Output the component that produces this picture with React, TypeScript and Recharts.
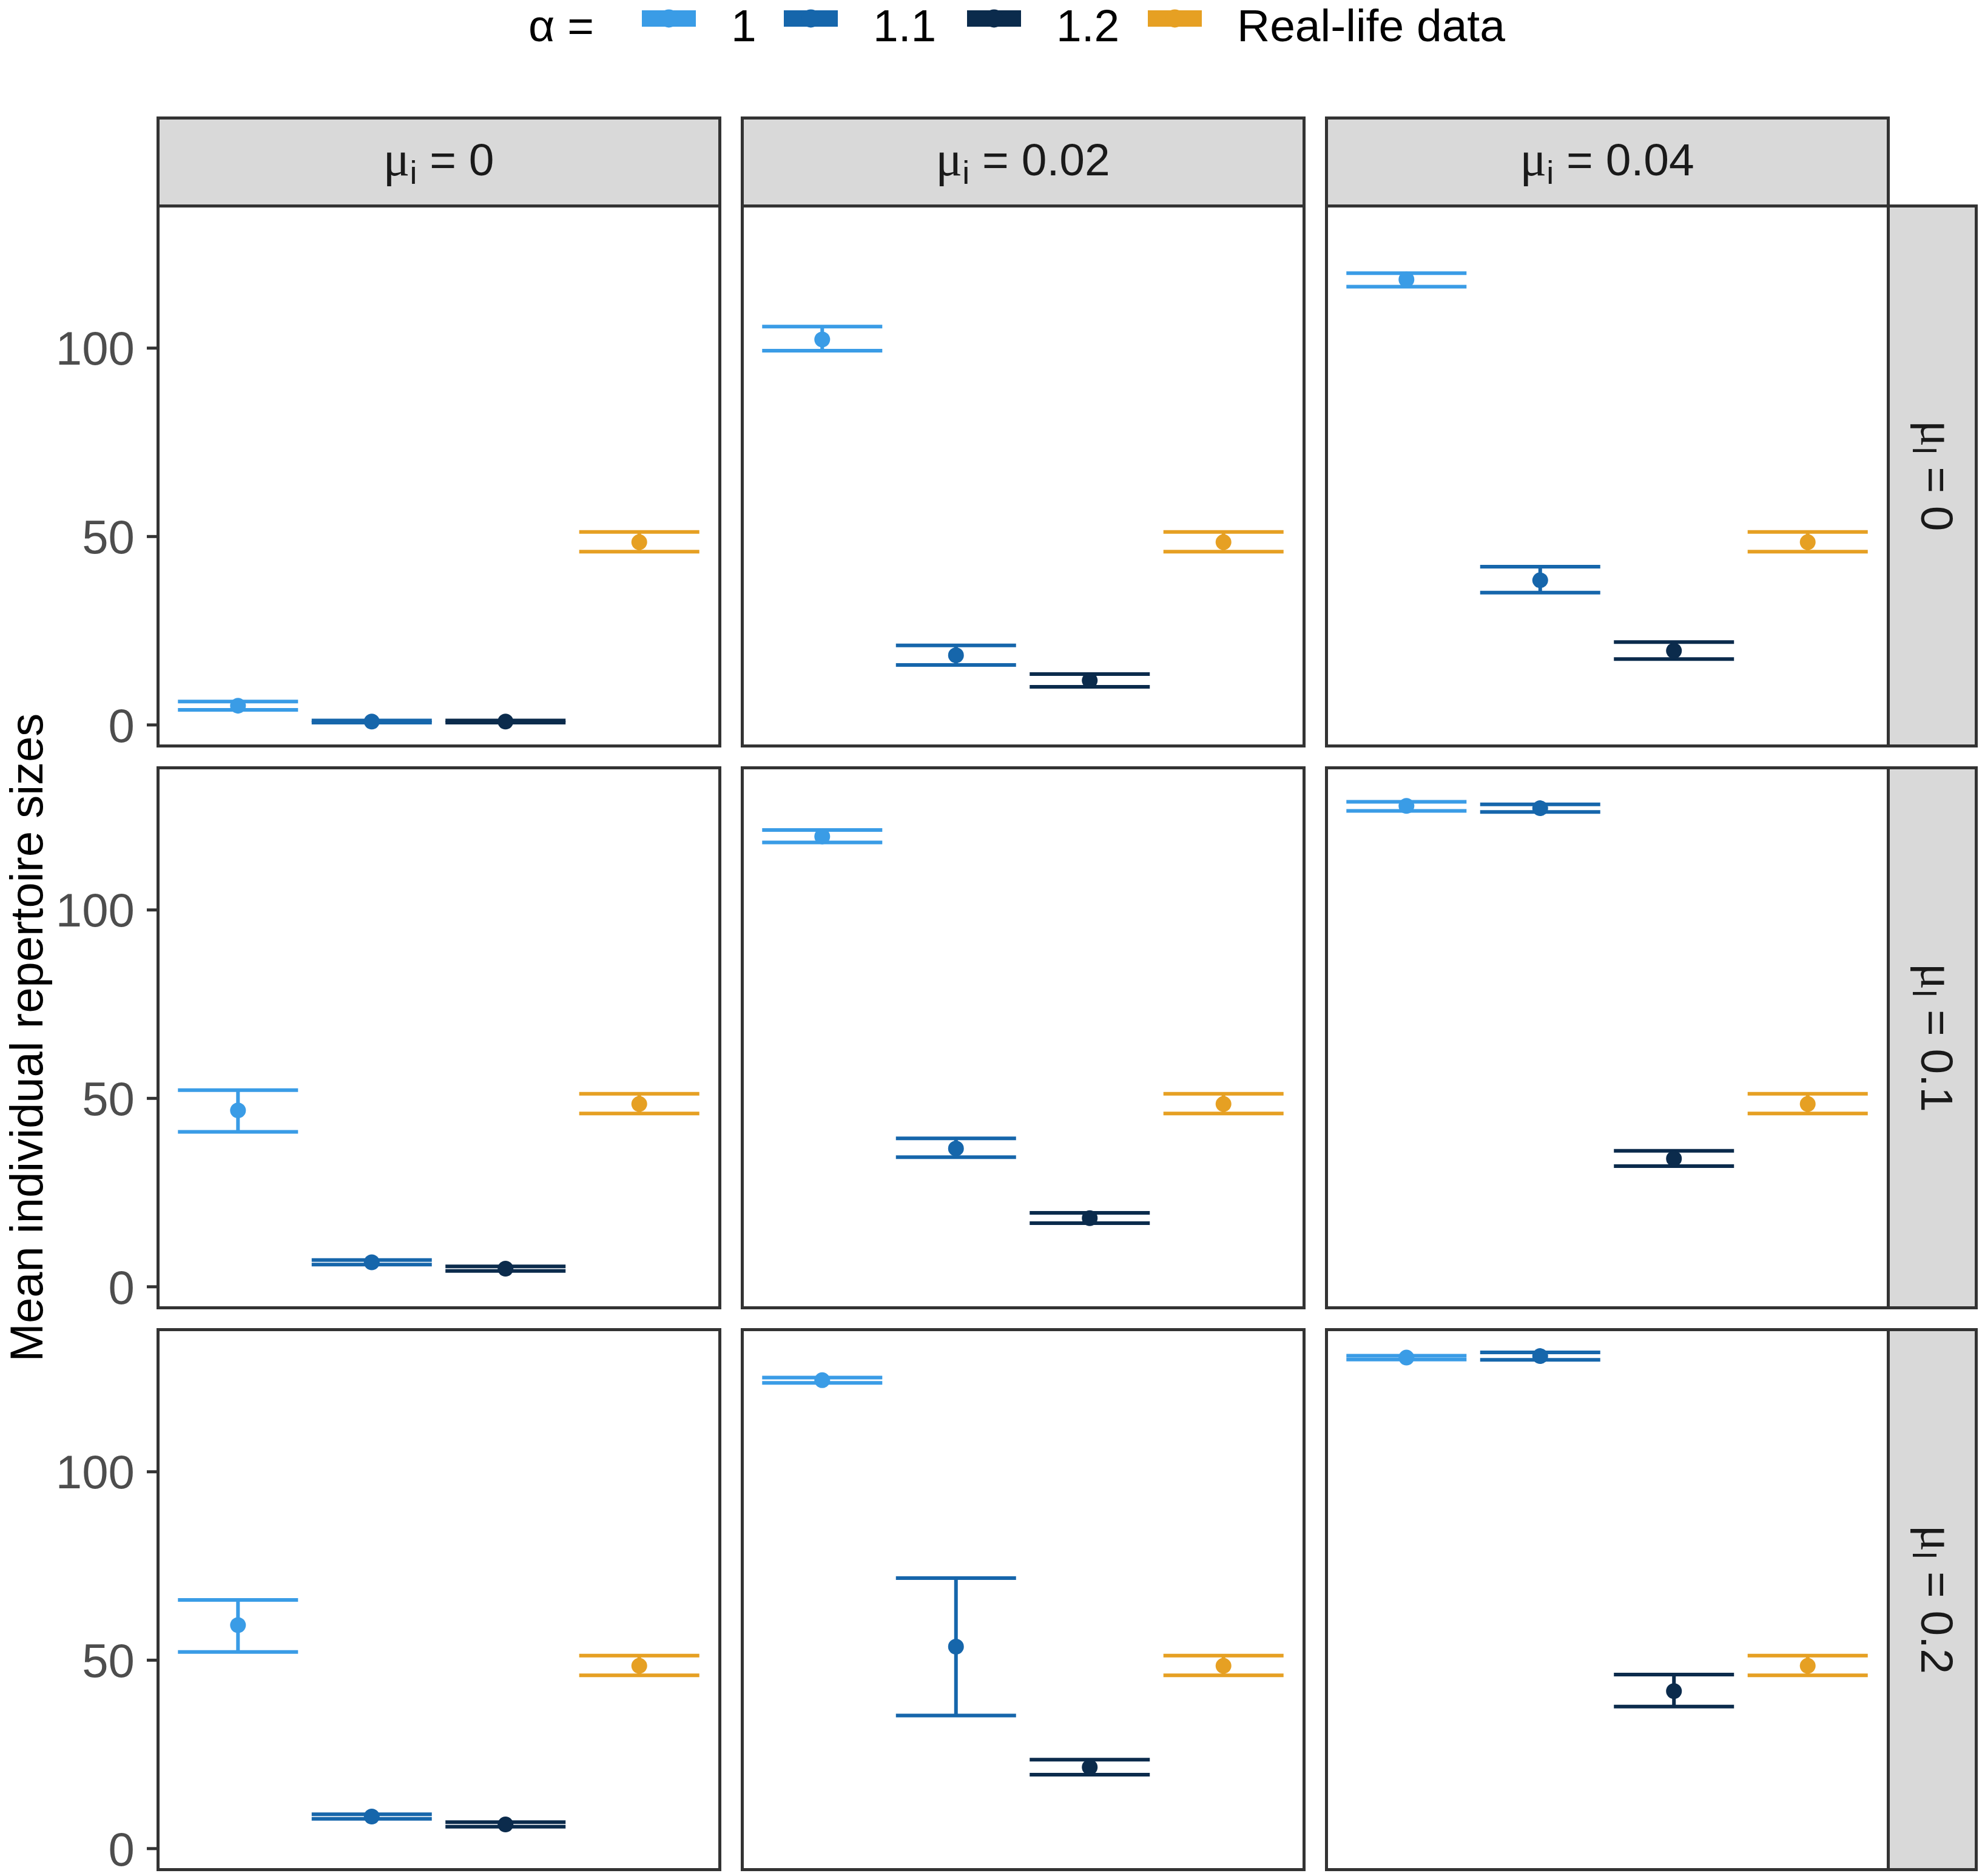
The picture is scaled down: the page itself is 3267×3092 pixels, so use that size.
import { ScatterChart, Scatter, XAxis, YAxis, ErrorBar } from 'recharts';

// ---------------------------------------------------------------------------
// data: mean individual repertoire size per facet (row = mu_l, col = mu_i)
// ---------------------------------------------------------------------------

const categories = ['1', '1.1', '1.2', 'Real-life data'];
const categoryColors = ['#3a9ce6', '#1666ab', '#0b2b4c', '#e6a023'];
const muILevels = ['0', '0.02', '0.04'];
const muLLevels = ['0', '0.1', '0.2'];
const yTicks = [0, 50, 100];

const meanValues = [
  [
    [5.1, 0.9, 0.9, 48.5],
    [102.3, 18.5, 11.8, 48.5],
    [118.2, 38.4, 19.7, 48.5],
  ],
  [
    [46.8, 6.5, 4.8, 48.5],
    [119.5, 36.7, 18.2, 48.5],
    [127.6, 127.0, 34.0, 48.5],
  ],
  [
    [59.3, 8.5, 6.4, 48.5],
    [124.3, 53.6, 21.6, 48.5],
    [130.3, 130.7, 41.8, 48.5],
  ],
];

const lowerValues = [
  [
    [4.0, 0.6, 0.6, 46.0],
    [99.3, 15.9, 10.1, 46.0],
    [116.3, 35.1, 17.5, 46.0],
  ],
  [
    [41.1, 5.9, 4.2, 46.0],
    [117.9, 34.4, 16.9, 46.0],
    [126.3, 126.0, 32.0, 46.0],
  ],
  [
    [52.2, 7.9, 5.8, 46.0],
    [123.6, 35.3, 19.6, 46.0],
    [129.8, 129.7, 37.7, 46.0],
  ],
];

const upperValues = [
  [
    [6.2, 1.2, 1.2, 51.2],
    [105.7, 21.1, 13.5, 51.2],
    [119.9, 42.0, 22.0, 51.2],
  ],
  [
    [52.2, 7.1, 5.4, 51.2],
    [121.2, 39.4, 19.6, 51.2],
    [128.7, 128.0, 36.1, 51.2],
  ],
  [
    [66.0, 9.1, 7.0, 51.2],
    [125.0, 71.8, 23.6, 51.2],
    [130.8, 131.7, 46.2, 51.2],
  ],
];

// ---------------------------------------------------------------------------
// layout
// ---------------------------------------------------------------------------

const PANEL_W = 926;
const PANEL_H = 890;
const PAD = 40; // room below each panel so the "0" tick label is not clipped
const colX = [260, 1223, 2186];
const rowY = [339, 1265, 2191];
const STRIP = 145;
const BORDER = 5;
const LINE = '#333333';
const STRIP_FILL = '#d9d9d9';
const CAP_HALF = 99;
const BAR_STROKE = 6;
const legendKeyX = [1058, 1292, 1594, 1892];

function Frame({ x, y, w, h, fill }: { x: number; y: number; w: number; h: number; fill?: string }) {
  return (
    <div
      style={{
        position: 'absolute',
        left: x - BORDER / 2,
        top: y - BORDER / 2,
        width: w + BORDER,
        height: h + BORDER,
        boxSizing: 'border-box',
        border: `${BORDER}px solid ${LINE}`,
        background: fill ?? 'transparent',
        pointerEvents: 'none',
      }}
    />
  );
}

function MuLabel({ sub, value }: { sub: string; value: string }) {
  return (
    <>
      <tspan fontFamily="Liberation Serif, serif" fontSize={82}>μ</tspan>
      <tspan fontSize={54} dy={14}>{sub}</tspan>
      <tspan dy={-14}>{` = ${value}`}</tspan>
    </>
  );
}

function Panel({ r, c }: { r: number; c: number }) {
  const showAxis = c === 0;
  const left = showAxis ? 0 : colX[c];
  const width = showAxis ? colX[0] + PANEL_W : PANEL_W;

  return (
    <div style={{ position: 'absolute', left, top: rowY[r] }}>
      <ScatterChart width={width} height={PANEL_H + PAD} margin={{ top: 0, right: 0, bottom: PAD, left: 0 }}>
        <XAxis type="number" dataKey="x" domain={[0.4, 4.6]} allowDataOverflow hide />
        <YAxis
          type="number"
          dataKey="y"
          domain={[-5.5, 137.8]}
          allowDataOverflow
          ticks={yTicks}
          interval={0}
          hide={!showAxis}
          width={colX[0]}
          axisLine={false}
          tickSize={18}
          tickMargin={20}
          tickLine={{ stroke: LINE, strokeWidth: BORDER }}
          tick={{ fill: '#4d4d4d', fontSize: 78 }}
        />
        {categories.map((cat, k) => {
          const mean = meanValues[r][c][k];
          const point = {
            x: k + 1,
            y: mean,
            err: [mean - lowerValues[r][c][k], upperValues[r][c][k] - mean],
          };
          const color = categoryColors[k];
          return (
            <Scatter
              key={cat}
              name={cat}
              data={[point]}
              isAnimationActive={false}
              shape={(p: any) => <circle cx={p.cx} cy={p.cy} r={13} fill={color} />}
            >
              <ErrorBar
                dataKey="err"
                direction="y"
                width={CAP_HALF}
                stroke={color}
                strokeWidth={BAR_STROKE}
                style={{ strokeWidth: BAR_STROKE }}
                isAnimationActive={false}
              />
            </Scatter>
          );
        })}
      </ScatterChart>
    </div>
  );
}

export default function App() {
  return (
    <div
      style={{
        position: 'absolute',
        left: 0,
        top: 0,
        width: 3267,
        height: 3092,
        background: '#ffffff',
        fontFamily: 'Liberation Sans, Arial, sans-serif',
        overflow: 'hidden',
      }}
    >
      {/* legend */}
      <svg style={{ position: 'absolute', left: 0, top: 0 }} width={3267} height={100}>
        <text x={871} y={68} fontSize={75} fill="#000">α =</text>
        {categories.map((cat, k) => (
          <g key={cat}>
            <rect x={legendKeyX[k]} y={17} width={89} height={27} fill={categoryColors[k]} />
            <circle cx={legendKeyX[k] + 44.5} cy={30.5} r={15} fill={categoryColors[k]} />
            <text x={legendKeyX[k] + 147} y={68} fontSize={75} fill="#000">{cat}</text>
          </g>
        ))}
      </svg>

      {/* y axis title */}
      <svg style={{ position: 'absolute', left: 0, top: 0 }} width={130} height={3092}>
        <text
          transform={`translate(70, ${(rowY[0] + rowY[2] + PANEL_H) / 2}) rotate(-90)`}
          textAnchor="middle"
          fontSize={76}
          fill="#000"
        >
          Mean individual repertoire sizes
        </text>
      </svg>

      {muLLevels.map((_, r) => muILevels.map((__, c) => <Panel key={`${r}-${c}`} r={r} c={c} />))}

      {/* panel borders */}
      {muLLevels.map((_, r) =>
        muILevels.map((__, c) => <Frame key={`f${r}-${c}`} x={colX[c]} y={rowY[r]} w={PANEL_W} h={PANEL_H} />)
      )}

      {/* top strips */}
      {muILevels.map((lvl, c) => (
        <div key={`ts${c}`}>
          <Frame x={colX[c]} y={rowY[0] - STRIP} w={PANEL_W} h={STRIP} fill={STRIP_FILL} />
          <svg style={{ position: 'absolute', left: colX[c], top: rowY[0] - STRIP }} width={PANEL_W} height={STRIP}>
            <text x={PANEL_W / 2} y={95} textAnchor="middle" fontSize={75} fill="#1a1a1a">
              <MuLabel sub="i" value={lvl} />
            </text>
          </svg>
        </div>
      ))}

      {/* right strips */}
      {muLLevels.map((lvl, r) => (
        <div key={`rs${r}`}>
          <Frame x={colX[2] + PANEL_W} y={rowY[r]} w={STRIP} h={PANEL_H} fill={STRIP_FILL} />
          <svg style={{ position: 'absolute', left: colX[2] + PANEL_W, top: rowY[r] }} width={STRIP} height={PANEL_H}>
            <text
              transform={`translate(55, ${PANEL_H / 2}) rotate(90)`}
              textAnchor="middle"
              fontSize={75}
              fill="#1a1a1a"
            >
              <MuLabel sub="l" value={lvl} />
            </text>
          </svg>
        </div>
      ))}
    </div>
  );
}
